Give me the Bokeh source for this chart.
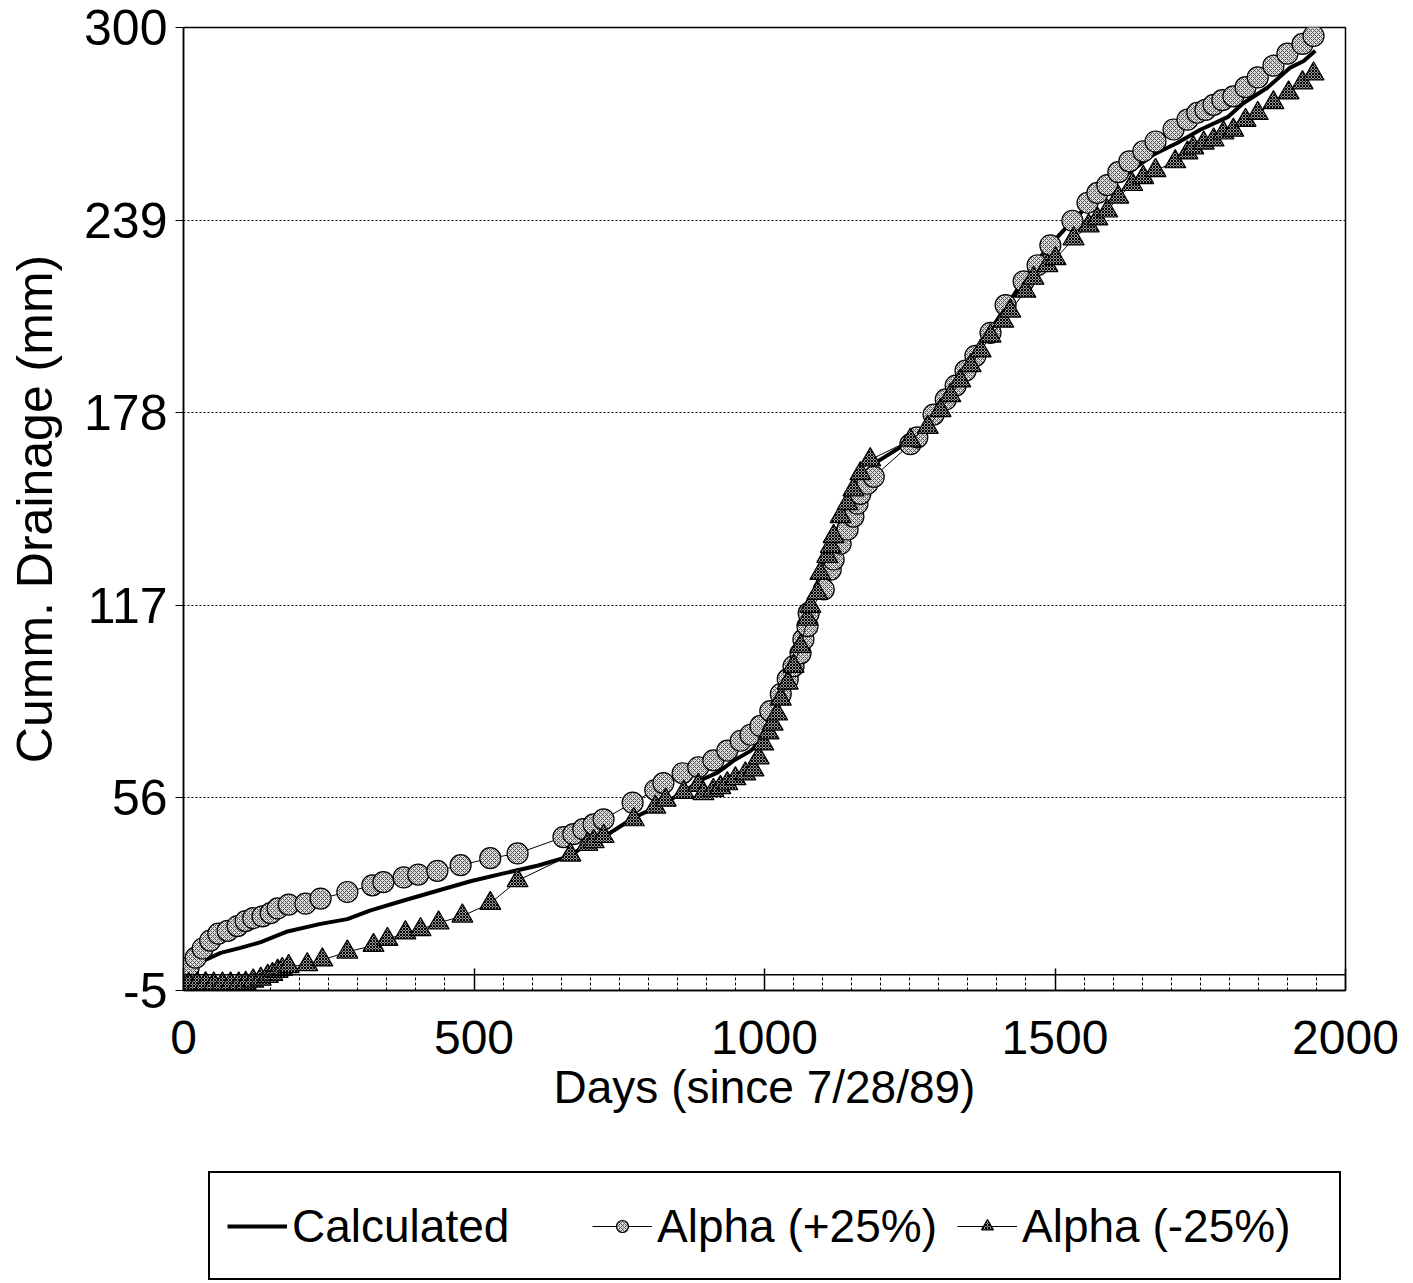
from bokeh.plotting import figure
from bokeh.layouts import column
from bokeh.models import FixedTicker, Span, Legend, LegendItem
from bokeh.embed import file_html
from bokeh.resources import INLINE

# ---- data ----
calc_days = [9, 34, 64, 98, 133, 179, 236, 282, 322, 379, 437, 494, 551, 609, 661,
             688, 730, 775, 821, 861, 890, 919, 947, 976, 998, 1005, 1028, 1045, 1062,
             1079, 1096, 1119, 1143, 1165, 1188, 1234, 1256, 1291, 1337, 1380, 1423,
             1463, 1497, 1522, 1556, 1596, 1635, 1670, 1711, 1750, 1797, 1824, 1866,
             1905, 1928, 1948]
calc_vals = [1.3, 4.4, 6.9, 8.5, 10.3, 13.7, 16.1, 17.6, 20.4, 23.5, 26.6, 29.6, 32.1,
             34.5, 37.3, 40.4, 44.4, 49.7, 53.8, 57.8, 61.6, 64.0, 67.8, 70.9, 74.7,
             78.8, 87.3, 95.5, 106.2, 116.7, 127.1, 137.8, 148.2, 156.8, 161.8, 167.1,
             170.2, 176.5, 189.7, 201.7, 213.6, 224.7, 232.2, 237.2, 243.5, 249.8,
             255.1, 259.8, 263.5, 267.6, 271.6, 276.0, 281.0, 287.3, 289.4, 292.6]

plus_days = [9, 21, 33, 46, 60, 76, 93, 107, 120, 136, 150, 162, 181, 210, 236, 282,
             325, 344, 379, 404, 437, 477, 528, 575, 654, 671, 688, 706, 723, 773, 812,
             826, 859, 886, 912, 936, 959, 976, 993, 1010, 1028, 1040, 1050, 1062,
             1067, 1074, 1076, 1102, 1114, 1119, 1131, 1143, 1153, 1160, 1165, 1177,
             1188, 1251, 1263, 1291, 1312, 1329, 1346, 1363, 1389, 1415, 1446, 1470,
             1492, 1530, 1556, 1573, 1590, 1609, 1628, 1652, 1673, 1704, 1728, 1745,
             1759, 1773, 1788, 1807, 1828, 1849, 1876, 1900, 1926, 1945]
plus_vals = [2.3, 5.4, 8.3, 10.8, 13.0, 13.9, 15.4, 17.0, 17.9, 18.5, 19.5, 21.0, 22.2,
             22.5, 24.1, 26.2, 28.3, 29.3, 30.8, 31.7, 32.9, 34.7, 36.9, 38.4, 43.6,
             44.5, 46.1, 47.6, 49.2, 54.5, 58.5, 60.7, 63.8, 65.7, 67.9, 71.0, 74.1,
             76.0, 78.8, 83.5, 88.9, 93.6, 97.7, 101.8, 106.2, 110.4, 114.5, 122.0,
             128.3, 131.5, 136.5, 141.0, 145.1, 149.2, 152.3, 155.5, 157.7, 168.0,
             170.2, 177.4, 182.2, 186.6, 191.3, 196.0, 203.3, 212.1, 219.6, 224.7,
             231.0, 238.8, 244.5, 247.6, 250.1, 254.2, 257.6, 260.8, 263.9, 267.7,
             270.8, 273.0, 273.9, 275.5, 277.0, 278.2, 281.1, 284.2, 287.9, 291.7,
             294.8, 297.3]

minus_days = [9, 24, 38, 52, 67, 81, 95, 107, 120, 133, 145, 153, 162, 170, 181, 213,
              239, 282, 327, 351, 382, 408, 439, 480, 528, 575, 666, 695, 706, 723,
              775, 812, 830, 861, 886, 895, 912, 924, 936, 950, 967, 981, 990, 998,
              1007, 1014, 1022, 1028, 1040, 1050, 1062, 1074, 1079, 1091, 1096, 1108,
              1114, 1119, 1131, 1143, 1153, 1165, 1182, 1251, 1281, 1303, 1320, 1337,
              1355, 1372, 1389, 1411, 1423, 1449, 1463, 1487, 1501, 1532, 1558, 1573,
              1590, 1609, 1633, 1652, 1673, 1707, 1728, 1738, 1756, 1773, 1790, 1807,
              1828, 1849, 1876, 1902, 1926, 1945]
minus_vals = [-3.1, -2.8, -2.8, -2.9, -2.9, -2.9, -2.9, -2.7, -2.0, -1.4, -0.5, 0.1,
              1.1, 1.7, 2.6, 3.2, 4.7, 7.2, 9.3, 11.2, 13.3, 14.3, 16.4, 18.6, 22.6,
              29.8, 37.9, 41.3, 42.2, 43.8, 49.1, 53.1, 55.3, 57.8, 60.0, 57.4, 58.4,
              59.3, 60.5, 62.1, 63.6, 64.9, 68.7, 73.1, 76.6, 79.4, 82.6, 87.3, 92.4,
              97.7, 104.0, 112.6, 116.7, 120.8, 127.1, 132.5, 135.6, 138.8, 145.1,
              149.2, 153.6, 158.7, 163.1, 169.3, 173.4, 178.7, 183.4, 188.1, 192.9,
              197.6, 202.3, 207.0, 210.2, 216.5, 220.6, 224.6, 226.8, 233.1, 237.2,
              239.4, 241.9, 246.3, 250.3, 252.5, 254.7, 257.5, 260.3, 261.9, 263.4,
              264.4, 266.6, 267.5, 270.6, 272.8, 276.2, 279.3, 282.5, 285.3]

x_ticks = [0, 500, 1000, 1500, 2000]
x_minor_ticks = list(range(0, 2001, 50))
y_ticks = [-5, 56, 117, 178, 239, 300]
series_names = ["Calculated", "Alpha (+25%)", "Alpha (-25%)"]
x_title = "Days (since 7/28/89)"
y_title = "Cumm. Drainage (mm)"

FONT = "Liberation Sans"

MAIN_H = 1160
p = figure(width=1413, height=MAIN_H, x_range=(0, 2000), y_range=(-5, 300),
           output_backend="svg", toolbar_location=None,
           min_border_left=183, min_border_right=68, min_border_top=27,
           min_border_bottom=MAIN_H - 990)
p.background_fill_color = "white"
p.border_fill_color = "white"
p.outline_line_color = "black"
p.outline_line_width = 1.5

# x axis
xa = p.xaxis[0]
xa.ticker = FixedTicker(ticks=x_ticks, minor_ticks=x_minor_ticks)
xa.axis_line_color = "black"
xa.axis_line_width = 1.5
xa.major_tick_in = 22
xa.major_tick_out = 0
xa.major_tick_line_color = "black"
xa.major_tick_line_width = 1.5
xa.minor_tick_in = 16
xa.minor_tick_out = 0
xa.minor_tick_line_color = "black"
xa.minor_tick_line_dash = "3 2"
xa.major_label_text_font = FONT
xa.major_label_text_font_size = "48px"
xa.major_label_text_color = "black"
xa.major_label_standoff = 30
xa.axis_label = x_title
xa.axis_label_text_font = FONT
xa.axis_label_text_font_size = "46px"
xa.axis_label_text_font_style = "normal"
xa.axis_label_text_color = "black"
xa.axis_label_standoff = 4

# y axis
ya = p.yaxis[0]
ya.ticker = FixedTicker(ticks=y_ticks, minor_ticks=[])
ya.major_label_overrides = {t: str(t) for t in y_ticks}
ya.axis_line_color = "black"
ya.axis_line_width = 1.5
ya.major_tick_in = 0
ya.major_tick_out = 8
ya.major_tick_line_color = "black"
ya.major_label_text_font = FONT
ya.major_label_text_font_size = "50px"
ya.major_label_text_color = "black"
ya.major_label_standoff = 8
ya.axis_label = y_title
ya.axis_label_text_font = FONT
ya.axis_label_text_font_size = "50px"
ya.axis_label_text_font_style = "normal"
ya.axis_label_text_color = "black"
ya.axis_label_standoff = 18

# grids
p.xgrid.visible = False
p.ygrid.ticker = FixedTicker(ticks=y_ticks[1:-1])
p.ygrid.grid_line_color = "black"
p.ygrid.grid_line_dash = "2 2"
p.ygrid.grid_line_width = 1

# zero line
p.add_layout(Span(location=0, dimension="width", line_color="black", line_width=1.5))

# series styles
calc_style = dict(line_color="black", line_width=4)
thin_style = dict(line_color="black", line_width=1)
plus_style = dict(marker="circle", size=21, fill_color="#dcdcdc", line_color="black",
                  line_width=1.2, hatch_pattern="diagonal_cross", hatch_scale=4,
                  hatch_color="#555555", hatch_weight=1)
minus_style = dict(marker="triangle", size=21, fill_color="#9a9a9a", line_color="black",
                   line_width=1.2, hatch_pattern="diagonal_cross", hatch_scale=3,
                   hatch_color="black", hatch_weight=1)

p.line(calc_days, calc_vals, **calc_style)
p.line(plus_days, plus_vals, **thin_style)
p.scatter(plus_days, plus_vals, **plus_style)
p.line(minus_days, minus_vals, **thin_style)
p.scatter(minus_days, minus_vals, **minus_style)

# ---- legend strip below the chart (same series, renderers hidden) ----
LEG_H = 1283 - MAIN_H
pl = figure(width=1413, height=LEG_H, x_range=(0, 2000), y_range=(-5, 300),
            x_axis_type=None, y_axis_type=None, output_backend="svg",
            toolbar_location=None, min_border=0)
pl.outline_line_color = None
pl.background_fill_color = "white"
pl.border_fill_color = "white"
pl.grid.visible = False

l_calc = pl.line(calc_days, calc_vals, **calc_style)
l_plus_line = pl.line(plus_days, plus_vals, **thin_style)
l_plus_pts = pl.scatter(plus_days, plus_vals, **plus_style)
l_minus_line = pl.line(minus_days, minus_vals, **thin_style)
l_minus_pts = pl.scatter(minus_days, minus_vals, **minus_style)
for r in (l_calc, l_plus_line, l_plus_pts, l_minus_line, l_minus_pts):
    r.visible = False

legend = Legend(
    items=[
        LegendItem(label=series_names[0], renderers=[l_calc]),
        LegendItem(label=series_names[1], renderers=[l_plus_line, l_plus_pts]),
        LegendItem(label=series_names[2], renderers=[l_minus_line, l_minus_pts]),
    ],
    location=(25, 3), orientation="horizontal",
    label_text_font=FONT, label_text_font_size="46px", label_text_color="black",
    glyph_width=60, glyph_height=30, label_width=300, label_height=71,
    label_standoff=5, spacing=0, padding=17, margin=0,
    border_line_color="black", border_line_width=2.5, border_line_alpha=1.0,
    background_fill_color="white", background_fill_alpha=1.0,
    inactive_fill_alpha=0.0,
)
pl.add_layout(legend)

layout = column(p, pl, spacing=0)
open("out.html", "w").write(file_html(layout, INLINE))
